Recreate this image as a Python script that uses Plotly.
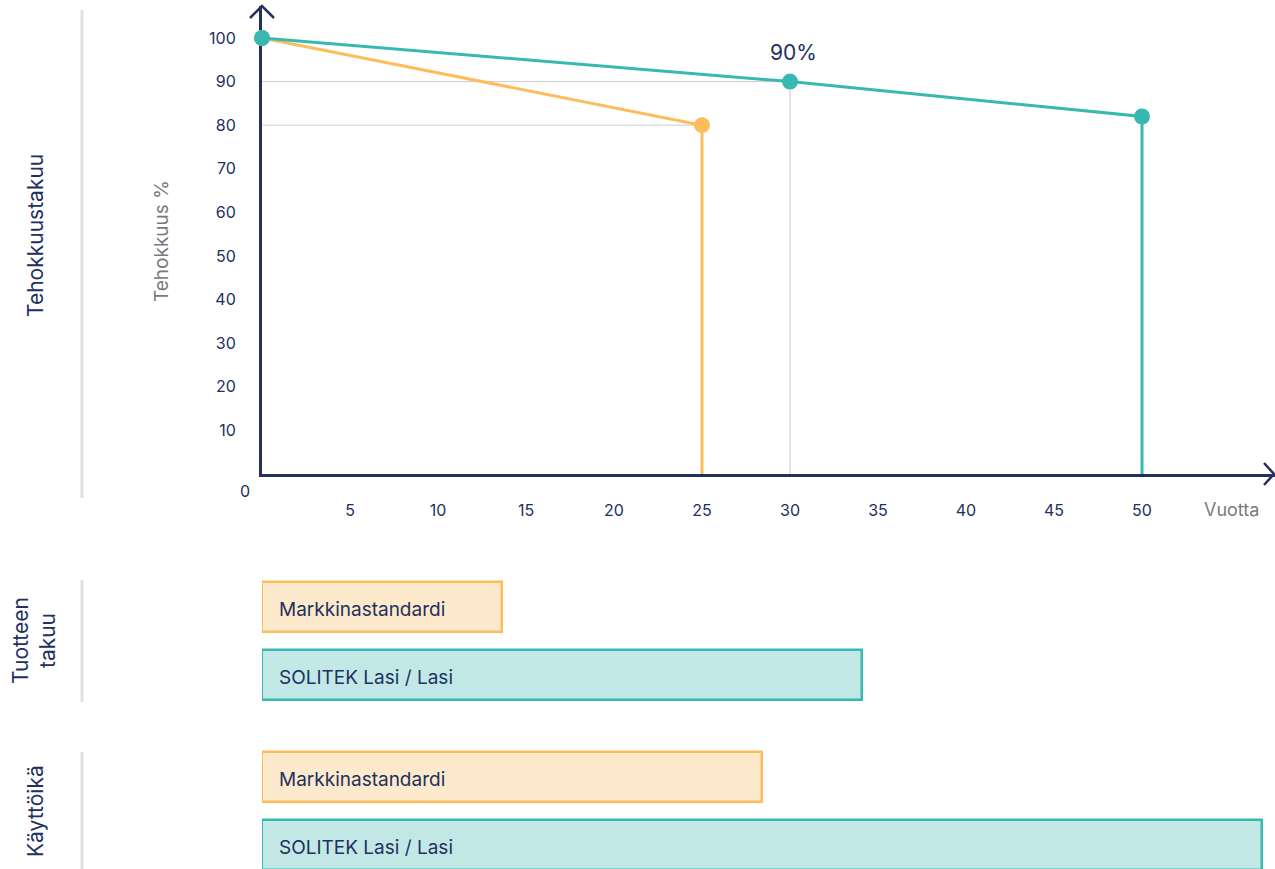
import plotly.graph_objects as go

W, H = 1275, 869

# ---- data ----
years_market = [0, 25, 25]
eff_market = [100, 80, 0]
years_solitek = [0, 30, 50, 50]
eff_solitek = [100, 90, 82, 0]

x_ticks = [5, 10, 15, 20, 25, 30, 35, 40, 45, 50]
y_ticks = [10, 20, 30, 40, 50, 60, 70, 80, 90, 100]

bar_labels = ["Markkinastandardi", "SOLITEK Lasi / Lasi"]
product_warranty = [12, 30]
lifetime = [25, 50]

highlight_label = "90%"

# ---- styles ----
NAVY = "#22305f"
TEAL = "#37b9b1"
ORANGE = "#fdbd5c"
TEAL_FILL = "#c2e8e6"
ORANGE_FILL = "#fde9cc"
GRAY_TXT = "#7a7a7a"
GRID = "#cccccc"
SEP = "#e0e0e0"
FONT = "Inter"

def px_x(p):
    return p / W

def px_y(p):
    return 1 - p / H

x0_px = 262
x_scale = 17.6
y0_px = 474
y_scale = 4.36
y_top_px = 6

fig = go.Figure()

# line series
for xs, ys, col in [(years_market, eff_market, ORANGE), (years_solitek, eff_solitek, TEAL)]:
    fig.add_trace(go.Scatter(
        x=xs, y=ys, mode="lines+markers",
        line=dict(color=col, width=3),
        marker=dict(size=[16 if v > 0 else 0 for v in ys], color=col, opacity=1,
                    line=dict(width=0)),
        xaxis="x", yaxis="y", showlegend=False, hoverinfo="skip", cliponaxis=False))

# bars
bar_colors = [ORANGE, TEAL]
fill_colors = [ORANGE_FILL, TEAL_FILL]
fig.add_trace(go.Bar(
    x=product_warranty, y=[0, 1], orientation="h", width=0.735,
    marker=dict(color=fill_colors, line=dict(color=bar_colors, width=2.5)),
    xaxis="x2", yaxis="y2", showlegend=False, hoverinfo="skip"))
fig.add_trace(go.Bar(
    x=lifetime, y=[0, 1], orientation="h", width=0.735,
    marker=dict(color=fill_colors, line=dict(color=bar_colors, width=2.5)),
    xaxis="x3", yaxis="y3", showlegend=False, hoverinfo="skip"))

shapes = []
annotations = []

# reference grid lines derived from data
shapes.append(dict(type="line", xref="x", yref="y", x0=0, x1=years_market[1],
                   y0=eff_market[1], y1=eff_market[1], line=dict(color=GRID, width=1), layer="below"))
shapes.append(dict(type="line", xref="x", yref="y", x0=0, x1=years_solitek[1],
                   y0=eff_solitek[1], y1=eff_solitek[1], line=dict(color=GRID, width=1), layer="below"))
shapes.append(dict(type="line", xref="x", yref="y", x0=years_solitek[1], x1=years_solitek[1],
                   y0=0, y1=eff_solitek[1], line=dict(color=GRID, width=1), layer="below"))

# arrowheads
shapes.append(dict(type="path", xref="paper", yref="paper",
                   path=f"M {px_x(x0_px-12)},{px_y(y_top_px+12)} L {px_x(x0_px)},{px_y(y_top_px)} L {px_x(x0_px+12)},{px_y(y_top_px+12)}",
                   line=dict(color=NAVY, width=2.5), layer="below"))
shapes.append(dict(type="path", xref="paper", yref="paper",
                   path=f"M {px_x(W-11)},{px_y(y0_px-11)} L {px_x(W-1)},{px_y(y0_px)} L {px_x(W-11)},{px_y(y0_px+11)}",
                   line=dict(color=NAVY, width=2.5), layer="below"))

# separators
for (ya, yb) in [(10, 498), (580, 702), (752, 869)]:
    shapes.append(dict(type="line", xref="paper", yref="paper",
                       x0=px_x(82), x1=px_x(82), y0=px_y(ya), y1=px_y(yb),
                       line=dict(color=SEP, width=3)))

def ann(x, y, text, size, color, angle=0):
    return dict(x=px_x(x), y=px_y(y), xref="paper", yref="paper", text=text,
                showarrow=False, textangle=angle, xanchor="center", yanchor="middle",
                font=dict(family=FONT, size=size, color=color))

# annotations
annotations.append(dict(x=years_solitek[1], y=eff_solitek[1], xref="x", yref="y",
                        text=highlight_label, showarrow=False, yshift=29, xshift=3,
                        xanchor="center", yanchor="middle",
                        font=dict(family=FONT, size=21, color=NAVY)))
annotations.append(dict(x=0, y=0, xref="x", yref="y", text="0", showarrow=False,
                        xshift=-17, yshift=-17, xanchor="center", yanchor="middle",
                        font=dict(family=FONT, size=16, color=NAVY)))
annotations.append(ann(1231, 509, "Vuotta", 18, GRAY_TXT))
annotations.append(ann(161, 241, "Tehokkuus %", 19, GRAY_TXT, -90))
annotations.append(ann(35, 236, "Tehokkuustakuu", 21, NAVY, -90))
annotations.append(ann(34, 641, "Tuotteen<br>takuu", 21, NAVY, -90))
annotations.append(ann(35, 811, "Käyttöikä", 21, NAVY, -90))

for xa, ya in [("x2", "y2"), ("x3", "y3")]:
    for i, lab in enumerate(bar_labels):
        annotations.append(dict(x=0, y=i, xref=xa, yref=ya, text=lab, showarrow=False,
                                xanchor="left", yanchor="middle", xshift=15, yshift=-2,
                                font=dict(family=FONT, size=19, color=NAVY)))

x_dom = [px_x(x0_px), 1.0]
x_range = [0, (W - x0_px) / x_scale]
bar_scale = 20.0
bar_range = [0, (W - x0_px) / bar_scale]

fig.update_layout(
    width=W, height=H, margin=dict(l=0, r=0, t=0, b=0),
    paper_bgcolor="white", plot_bgcolor="white",
    font=dict(family=FONT, color=NAVY),
    shapes=shapes, annotations=annotations,
    bargap=0,
    xaxis=dict(domain=x_dom, range=x_range, anchor="y", tickvals=x_ticks,
               showgrid=False, zeroline=False, showline=True, linecolor=NAVY, linewidth=3,
               layer="below traces",
               ticks="", ticklabelstandoff=20, tickfont=dict(family=FONT, size=16, color=NAVY)),
    yaxis=dict(domain=[px_y(y0_px), px_y(y_top_px)], range=[0, (y0_px - y_top_px) / y_scale],
               anchor="x", tickvals=y_ticks, showgrid=False, zeroline=False,
               showline=True, linecolor=NAVY, linewidth=3, ticks="", ticklabelstandoff=20,
               layer="below traces",
               tickfont=dict(family=FONT, size=16, color=NAVY)),
    xaxis2=dict(domain=x_dom, range=bar_range, anchor="y2", visible=False),
    yaxis2=dict(domain=[px_y(709), px_y(573)], range=[1.5, -0.5], anchor="x2", visible=False),
    xaxis3=dict(domain=x_dom, range=bar_range, anchor="y3", visible=False),
    yaxis3=dict(domain=[0, px_y(743)], range=[1 + 24 / 68, -0.5], anchor="x3", visible=False),
)

fig.write_html("out.html", config={"displayModeBar": False},
               post_script="document.body.style.margin='0';document.body.style.overflow='hidden';")
